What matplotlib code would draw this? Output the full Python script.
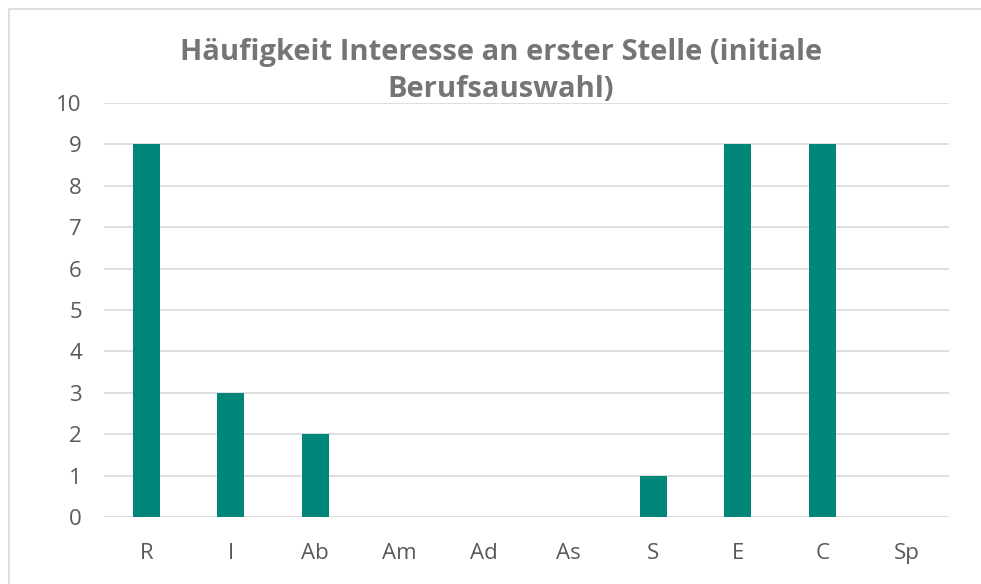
import matplotlib
matplotlib.use("Agg")
import matplotlib.pyplot as plt
from matplotlib.patches import Rectangle

categories = ["R", "I", "Ab", "Am", "Ad", "As", "S", "E", "C", "Sp"]
values = [9, 3, 2, 0, 0, 0, 1, 9, 9, 0]
yticks = list(range(0, 11))
title = "Häufigkeit Interesse an erster Stelle (initiale\nBerufsauswahl)"

plt.rcParams['font.family'] = ['Open Sans', 'DejaVu Sans']

W, H = 981, 584
fig = plt.figure(figsize=(W/100, H/100), dpi=100)
fig.patches.append(Rectangle((9/W, -0.1), 1.1, 1 - 9/H + 0.1, transform=fig.transFigure,
                             fill=False, edgecolor="#d9d9d9", linewidth=1.2))

ax = fig.add_axes([104/W, 1 - 517/H, (949-104)/W, (517-103)/H])
x = list(range(len(categories)))
ax.bar(x, values, width=0.315, color="#00877A", zorder=3)
ax.set_xlim(-0.5, len(categories) - 0.5)
ax.set_ylim(0, 10)
ax.set_yticks(yticks)
ax.set_xticks(x)
ax.set_xticklabels(categories)
ax.grid(axis="y", color="#d9d9d9", linewidth=1.2, zorder=0)
for s in ax.spines.values():
    s.set_visible(False)
ax.tick_params(axis="both", length=0, labelsize=16, labelcolor="#595959")
ax.tick_params(axis="x", pad=19)
ax.tick_params(axis="y", pad=16)
for lbl in ax.get_yticklabels():
    lbl.set_horizontalalignment("right")

fig.text(501/W, 1 - 71/H, title, ha="center", va="center", fontsize=21,
         fontweight="bold", color="#757575", linespacing=1.33)

fig.savefig("out.png", dpi=100)
